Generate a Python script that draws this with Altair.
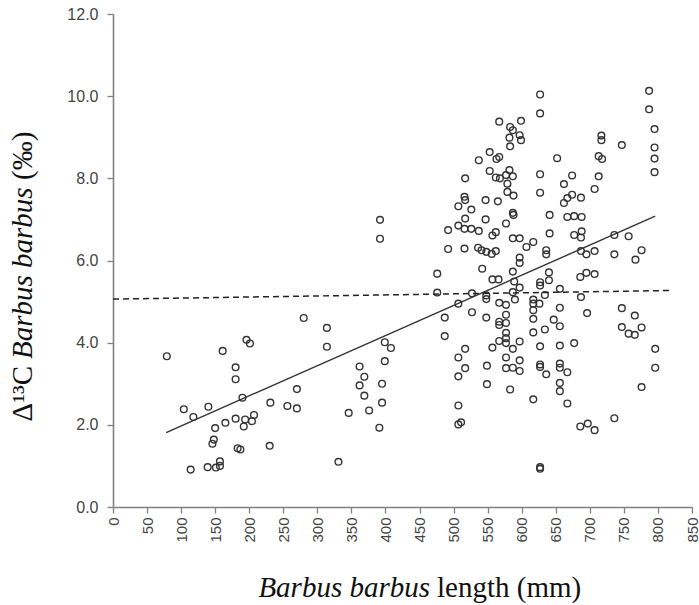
import altair as alt
import pandas as pd

# Fish length (mm) and Δ13C (‰)
length_mm = [
    79, 104, 118, 140, 114, 139, 151, 157, 157, 146, 148, 150, 165, 161, 180, 180, 190, 196, 201, 180,
    194, 192, 207, 204, 183, 187, 230, 231, 256, 270, 270, 280, 314, 314, 331, 346, 362, 369, 362, 369,
    376, 392, 392, 399, 408, 399, 395, 395, 391, 476, 476,
    627, 627, 567, 599, 583, 587, 582, 597, 599, 583, 553, 563, 567, 537, 553, 562, 568, 577, 582, 587,
    627, 517, 579, 579, 588, 627, 516, 517, 507, 526, 547, 565, 587, 588, 517, 507, 516, 526, 537, 492,
    547, 577, 562, 557, 587, 597, 617, 607, 492, 516, 536, 541, 548, 562, 556, 597, 597, 542, 587, 557, 566,
    787, 787, 795, 795, 795, 795, 717, 717, 747, 713, 718, 652, 674, 662, 713, 707, 674, 667, 662, 687,
    641, 667, 677, 688, 641, 677, 688, 687, 736, 757, 636, 636, 687, 695, 707, 736, 776, 767, 686, 695, 707,
    589, 597, 587, 590, 627, 627, 634, 527, 548, 548, 507, 567, 577, 617, 617, 626, 617, 487, 527, 548,
    577, 567, 567, 577, 617, 634, 617, 487, 577, 577, 567, 577, 597, 557, 587, 517, 507, 627, 577, 597,
    549, 517, 577, 587, 597, 627, 627, 636, 507, 549, 583, 617, 507, 507, 511, 627, 627,
    640, 640, 656, 687, 656, 696, 647, 656, 747, 766, 747, 757, 766, 776, 656, 677, 796, 656, 656, 667,
    796, 656, 656, 667, 776, 736, 686, 697, 707,
]
delta13c = [
    3.67, 2.38, 2.19, 2.44, 0.91, 0.97, 0.96, 1.00, 1.11, 1.54, 1.64, 1.92, 2.05, 3.80, 3.40, 3.11, 2.66, 4.07, 3.98, 2.15,
    2.13, 1.96, 2.24, 2.09, 1.43, 1.40, 1.49, 2.54, 2.46, 2.40, 2.87, 4.60, 4.36, 3.90, 1.10, 2.29, 3.42, 3.17, 2.96, 2.71,
    2.35, 6.99, 6.53, 4.01, 3.87, 3.55, 3.00, 2.54, 1.93, 5.68, 5.22,
    10.04, 9.58, 9.38, 9.40, 9.25, 9.17, 8.99, 9.05, 8.93, 8.78, 8.64, 8.47, 8.52, 8.44, 8.18, 8.02, 8.00, 8.08, 8.20, 8.05,
    8.10, 8.00, 7.87, 7.67, 7.58, 7.65, 7.55, 7.47, 7.32, 7.24, 7.47, 7.44, 7.16, 7.11, 7.02, 6.85, 6.77, 6.77, 6.72, 6.74,
    7.00, 6.90, 6.69, 6.61, 6.54, 6.54, 6.45, 6.33, 6.28, 6.29, 6.31, 6.25, 6.21, 6.23, 6.16, 6.07, 5.94, 5.80, 5.73, 5.54, 5.54,
    10.13, 9.68, 9.20, 8.75, 8.48, 8.15, 9.04, 8.93, 8.81, 8.54, 8.47, 8.49, 8.07, 7.86, 8.05, 7.74, 7.60, 7.52, 7.40, 7.53,
    7.11, 7.06, 7.08, 7.06, 6.66, 6.62, 6.71, 6.56, 6.62, 6.59, 6.25, 6.15, 6.23, 6.15, 6.23, 6.15, 6.25, 6.02, 5.60, 5.70, 5.67,
    5.49, 5.34, 5.23, 5.05, 5.47, 5.39, 5.16, 5.20, 5.15, 5.06, 4.95, 4.97, 4.92, 5.05, 4.95, 4.95, 4.79, 4.61, 4.74, 4.61,
    4.68, 4.51, 4.43, 4.48, 4.58, 4.32, 4.25, 4.16, 4.24, 4.11, 4.04, 3.99, 4.03, 3.88, 3.85, 3.85, 3.64, 3.91, 3.64, 3.57,
    3.44, 3.38, 3.38, 3.39, 3.31, 3.47, 3.41, 3.23, 3.18, 2.99, 2.86, 2.62, 2.47, 2.01, 2.06, 0.97, 0.93,
    5.71, 5.52, 5.31, 5.11, 4.85, 4.72, 4.56, 4.40, 4.84, 4.66, 4.38, 4.22, 4.19, 4.37, 3.93, 3.99, 3.85, 3.49, 3.39, 3.28,
    3.39, 3.02, 2.82, 2.52, 2.92, 2.16, 1.96, 2.03, 1.87,
]

# fitted lines (end points)
fit_x = [78, 796]
fit_y = [1.81, 7.08]
flat_x = [0, 820]
flat_y = [5.06, 5.27]

x_ticks = list(range(0, 851, 50))
y_ticks = [0, 2, 4, 6, 8, 10, 12]

pts = pd.DataFrame({"length": length_mm, "d13c": delta13c})
fit = pd.DataFrame({"length": fit_x, "d13c": fit_y})
flat = pd.DataFrame({"length": flat_x, "d13c": flat_y})

xs = alt.Scale(domain=[0, 850], nice=False, zero=False)
ys = alt.Scale(domain=[0, 12], nice=False, zero=False)


def x_axis():
    return alt.Axis(values=x_ticks, labelAngle=270, title=None, labelPadding=4,
                    labelOverlap=False, tickCount=18, labelFontSize=15)


def y_axis():
    return alt.Axis(values=y_ticks, format=".1f", title=None, labelPadding=9, labelOverlap=False)


def xy():
    return dict(x=alt.X("length:Q", scale=xs, axis=x_axis()),
                y=alt.Y("d13c:Q", scale=ys, axis=y_axis()))


points = alt.Chart(pts).mark_point(
    shape="circle", filled=False, size=45, strokeWidth=1.4, color="#333333", opacity=1
).encode(**xy())

fit_line = alt.Chart(fit).mark_line(color="#333333", strokeWidth=1.4).encode(**xy())
flat_line = alt.Chart(flat).mark_line(color="#222222", strokeWidth=1.5, strokeDash=[6, 4]).encode(**xy())

one = pd.DataFrame({"k": [0]})
serif = "Liberation Serif"
ytitle_x = -81
yt1 = alt.Chart(one).mark_text(text="Δ¹³C", font=serif, fontSize=29, angle=270, align="right",
                               baseline="alphabetic", color="#111111").encode(
    x=alt.value(ytitle_x), y=alt.value(352))
yt2 = alt.Chart(one).mark_text(text="Barbus barbus", font=serif, fontSize=29, fontStyle="italic", angle=270,
                               align="left", baseline="alphabetic", color="#111111").encode(
    x=alt.value(ytitle_x), y=alt.value(345))
yt3 = alt.Chart(one).mark_text(text="(‰)", font=serif, fontSize=29, angle=270, align="left",
                               baseline="alphabetic", color="#111111").encode(
    x=alt.value(ytitle_x), y=alt.value(166))
xt1 = alt.Chart(one).mark_text(text="Barbus barbus", font=serif, fontSize=29, fontStyle="italic",
                               align="right", baseline="alphabetic", color="#111111").encode(
    x=alt.value(317), y=alt.value(583))
xt2 = alt.Chart(one).mark_text(text="length (mm)", font=serif, fontSize=29, align="left",
                               baseline="alphabetic", color="#111111").encode(
    x=alt.value(324), y=alt.value(583))

chart = alt.layer(points, fit_line, flat_line, yt1, yt2, yt3, xt1, xt2).properties(
    width=579, height=493,
    autosize=alt.AutoSizeParams(type="none"),
    padding={"left": 113, "top": 14, "right": 7, "bottom": 98},
    background="white",
).configure_view(stroke=None).configure_axis(
    grid=False,
    domainColor="#808080", domainWidth=1.6,
    tickColor="#808080", tickWidth=1.3, tickSize=6,
    labelFont="Liberation Sans", labelFontSize=16, labelColor="#444444",
)

chart.save("out.html", embed_options={"renderer": "svg", "actions": False})
